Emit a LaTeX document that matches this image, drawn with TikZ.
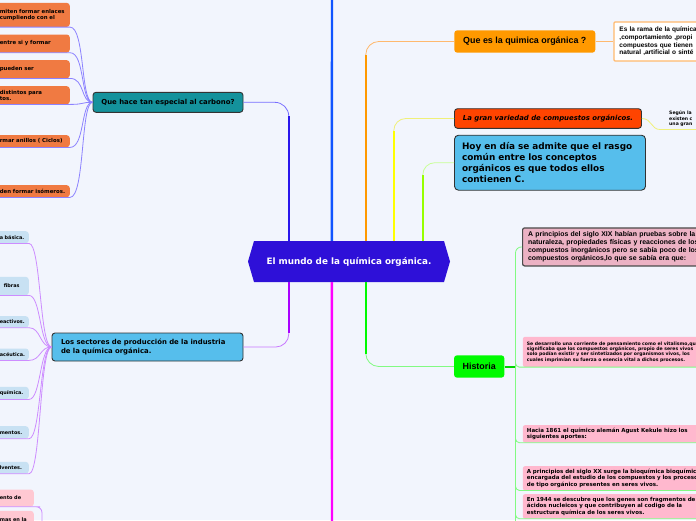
\documentclass[tikz,border=0pt]{standalone}
\usepackage{fontspec}
\setmainfont{DejaVu Sans}
\newfontfamily\arialf{Liberation Sans}
\usetikzlibrary{calc, positioning}

\definecolor{bgcol}{RGB}{242,245,253}
\definecolor{mundoc}{RGB}{46,16,216}
\definecolor{tealc}{RGB}{20,146,156}
\definecolor{bluec}{RGB}{86,190,236}
\definecolor{orangec}{RGB}{255,153,0}
\definecolor{orangel}{RGB}{255,185,110}
\definecolor{redc}{RGB}{255,68,0}
\definecolor{greenc}{RGB}{0,250,0}
\definecolor{greenl}{RGB}{130,250,130}
\definecolor{leaforange}{RGB}{240,122,66}
\definecolor{leafblue}{RGB}{200,225,243}
\definecolor{leafpink}{RGB}{255,184,206}
\definecolor{pinkd}{RGB}{236,178,196}
\definecolor{pinkl}{RGB}{255,200,210}
\definecolor{blued}{RGB}{42,22,236}
\definecolor{bluel}{RGB}{120,110,255}
\definecolor{bluem}{RGB}{16,84,255}
\definecolor{purpled}{RGB}{170,0,255}
\definecolor{purplel}{RGB}{200,120,255}
\definecolor{magentac}{RGB}{255,0,255}
\definecolor{yellowc}{RGB}{255,255,0}
\definecolor{yellowl}{RGB}{240,240,120}
\definecolor{limec}{RGB}{150,255,0}
\definecolor{limel}{RGB}{200,255,150}
\definecolor{fanblue}{RGB}{140,130,255}
\definecolor{fanpurple}{RGB}{205,140,255}

\newcommand{\fsz}[2]{\fontsize{#1}{#2}\selectfont}

\tikzset{
  topic/.style={rounded corners=3, inner sep=0, font=\bfseries\fsz{6.9}{8.5}},
  leafo/.style={fill=leaforange, rounded corners=3, anchor=north east, text width=67, inner xsep=3, inner ysep=0, align=left, font=\bfseries\fsz{5.4}{6.2}},
  leafb/.style={fill=leafblue, rounded corners=3, anchor=north east, text width=26, inner xsep=3, inner ysep=0, align=left, font=\bfseries\fsz{4.9}{5.6}},
  leafp/.style={fill=leafpink, rounded corners=2, anchor=north west, text width=200, inner xsep=4, inner ysep=0, align=left, font=\bfseries\fsz{5.5}{6.8}},
  trunk/.style={line width=2.4},
  twig/.style={line width=0.8}
}

\begin{document}
\begin{tikzpicture}[x=1pt, y=-1pt]
\useasboundingbox (0,0) rectangle (696,520);
\clip (0,0) rectangle (696,520);
\fill[bgcol] (0,0) rectangle (696,520);

% Centre
\fill[mundoc] (248,261.5) -- (254,241) -- (444,241) -- (450,261.5) -- (444,282) -- (254,282) -- cycle;
\node[font=\bfseries\fsz{8.8}{10}, text=white, minimum width=202, minimum height=41, inner sep=0] (mundo) at (349,261.5) {El mundo de la química orgánica.};

% Right topics
\node[topic, fill=orangec, minimum width=141, minimum height=22.4, font=\arialf\bfseries\fsz{8.9}{10}] (quees) at (524.8,41.5) {Que es la quimica orgánica ?};
\node[topic, fill=white, draw=orangel, line width=1.3, rounded corners=1, anchor=west, text width=200, inner xsep=5.5, minimum height=39, align=left, font=\arialf\bfseries\fsz{6.5}{7.6}] (rama) at (613.3,41.5) {Es la rama de la química\\,comportamiento ,propi\\compuestos que tienen\\natural ,artificial o sinté};
\node[topic, fill=redc, draw=black!80, line width=0.9, minimum width=187, minimum height=19.6, font=\bfseries\itshape\fsz{6.9}{8}] (variedad) at (548,118.5) {La gran variedad de compuestos orgánicos.};
\node[anchor=south west, inner xsep=9, inner ysep=3, text width=40, align=left, font=\bfseries\fsz{4.6}{5.3}] (segun) at (660,129.5) {Según la\\existen c\\una gran};
\node[topic, fill=bluec, draw=black!80, line width=0.9, rounded corners=4, minimum height=55, text width=176, inner xsep=7.5, align=left, font=\bfseries\fsz{8.9}{11}] (hoy) at (550,162.7) {Hoy en día se admite que el rasgo\\común entre los conceptos\\orgánicos es que todos ellos\\contienen C.};
\node[topic, fill=greenc, minimum width=50.3, minimum height=22.4, font=\arialf\bfseries\fsz{8.9}{10}] (historia) at (479.2,366.5) {Historia};

% Historia leaves
\node[leafp, fill=pinkd, draw=black!70, line width=1.2, inner xsep=5.5, minimum height=38, font=\arialf\bfseries\fsz{6.9}{7.9}] (xix) at (522,227.3) {A principios del siglo XIX habían pruebas sobre la\\naturaleza, propiedades físicas y reacciones de los\\compuestos inorgánicos pero se sabía poco de los\\compuestos orgánicos,lo que se sabía era que:};
\node[leafp, minimum height=30, font=\bfseries\fsz{4.6}{5.4}] (vital) at (522.7,336.7) {Se desarrollo una corriente de pensamiento como el vitalismo,qu\\significaba que los compuestos orgánicos, propio de seres vivos\\solo podían existir y ser sintetizados por organismos vivos, los\\cuales imprimían su fuerza o esencia vital a dichos procesos.};
\node[leafp, minimum height=17.3] (kekule) at (522.7,425) {Hacia 1861 el químico alemán  Agust Kekule hizo los\\siguientes aportes:};
\node[leafp, minimum height=24] (bioq) at (522.7,466) {A principios del siglo XX surge la bioquímica bioquímic\\encargada del estudio de los compuestos y los proceso\\de tipo orgánico presentes en seres vivos.};
\node[leafp, minimum height=24.3] (genes) at (522.7,494) {En 1944 se descubre que los genes son fragmentos de\\ácidos nucleicos y que contribuyen al codigo de la\\estructura química de los seres vivos.};

% Left topics
\node[topic, fill=tealc, draw=black!80, line width=0.9, minimum width=150, minimum height=20] (carb) at (168,102.3) {Que hace tan especial al carbono?};
\node[topic, fill=bluec, draw=black!80, line width=0.9, minimum height=28, text width=173, inner xsep=9, align=left] (sectores) at (147.5,347) {Los sectores de producción de la industria\\de la química orgánica.};

% Left leaves
\node[leafo, minimum height=24] (c1) at (70,2.7) {miten formar enlaces\\ cumpliendo con el};
\node[leafo, minimum height=18] (c2) at (70,34.3) {entre si y formar};
\node[leafo, minimum height=18] (c3) at (70,60) {pueden ser};
\node[leafo, minimum height=18] (c4) at (70,86) {distintos para\\tos.};
\node[leafo, minimum height=12] (c5) at (70,135) {rmar anillos ( Ciclos)};
\node[leafo, minimum height=12] (c6) at (70,185) {den formar isómeros.};

\node[leafb, minimum height=12] (s1) at (29,231) {a básica.};
\node[leafb, minimum height=18.3] (s2) at (29,276.7) {\hspace*{4pt}fibras};
\node[leafb, minimum height=11.3] (s3) at (29,316) {eactivos.};
\node[leafb, minimum height=11.7] (s4) at (29,348.3) {acéutica.};
\node[leafb, minimum height=12.3] (s5) at (29,386.7) {química.};
\node[leafb, minimum height=12.3] (s6) at (29,426) {mentos.};
\node[leafb, minimum height=11.7] (s7) at (29,461.7) {lventes.};

\node[leafb, fill=pinkl, text width=31, minimum height=17, font=\bfseries\fsz{5}{6}] (p1) at (34,489.3) {ento de};
\node[leafb, fill=pinkl, text width=31, minimum height=18, font=\bfseries\fsz{5}{6}] (p2) at (34,510.7) {mas en la};

% Free ends
\coordinate (upend) at (332,-5);
\coordinate (downend) at (332,525);
\coordinate (maghub) at (42,540);
\coordinate (hjoin) at (515.5,366.5);
\coordinate (hend) at (515.5,525);

% Branches above the centre
\draw[twig, bluel, rounded corners=14] ([xshift=41]mundo.north west) |- (carb.east);
\draw[trunk, blued] ([xshift=41]mundo.north west) -- ++(0,-125);
\draw[trunk, bluem] ([xshift=84]mundo.north west) -- (upend |- upend);
\draw[twig, orangel, rounded corners=13] ([xshift=118]mundo.north west) |- (quees.west);
\draw[trunk, orangec] ([xshift=118]mundo.north west) -- ++(0,-186);
\draw[twig, yellowl, rounded corners=12] ([xshift=146]mundo.north west) |- (variedad.west);
\draw[trunk, yellowc] ([xshift=146]mundo.north west) -- ++(0,-110);
\draw[twig, limel, rounded corners=12] ([xshift=175]mundo.north west) |- (hoy.west);
\draw[trunk, limec] ([xshift=175]mundo.north west) -- ++(0,-66);

% Branches below the centre
\draw[twig, purplel, rounded corners=13] ([xshift=41]mundo.south west) |- (sectores.east);
\draw[trunk, purpled] ([xshift=41]mundo.south west) -- ++(0,51);
\draw[trunk, magentac] ([xshift=84]mundo.south west) -- (downend);
\draw[twig, greenl, rounded corners=13] ([xshift=118]mundo.south west) |- (historia.west);
\draw[trunk, greenc] ([xshift=118]mundo.south west) -- ++(0,72);

% Right links
\draw[twig, orangel] (quees.east) -- (rama.west);
\draw[twig, yellowl] (variedad.east) .. controls +(10,0) and +(-9,0) .. (segun.south west) -- (segun.south east);
\draw[line width=2, greenc!85!black] (historia.east) -- (hjoin);
\draw[twig, greenl, rounded corners=6] (hjoin) |- (xix.west);
\foreach \n in {vital,kekule,bioq,genes}
  \draw[twig, greenl, rounded corners=4] (hjoin) |- (\n.south west) -- (\n.south east);
\draw[twig, greenl] (hjoin) -- (hend);

% Left fans
\foreach \i in {1,...,6}
  \draw[twig, fanblue] (carb.west) .. controls +(-12,0) and +(15,0) .. (c\i.south east) -- (c\i.south west);
\foreach \i in {1,...,7}
  \draw[twig, fanpurple] (sectores.west) .. controls +(-12,0) and +(12,0) .. (s\i.south east) -- (s\i.south west);
\draw[twig, fanpurple, rounded corners=6] (maghub) |- (p1.south east) -- (p1.south west);
\end{tikzpicture}
\end{document}
